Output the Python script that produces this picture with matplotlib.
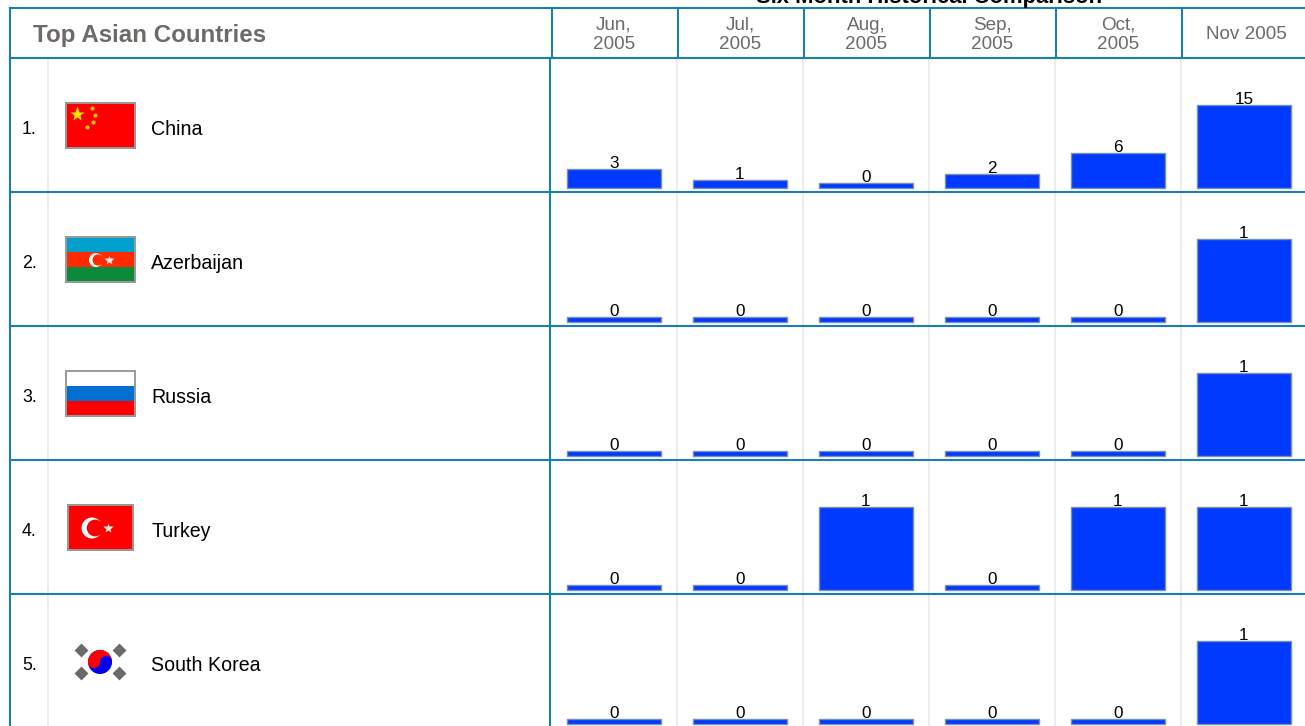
import numpy as np
import matplotlib
matplotlib.use('Agg')
import matplotlib.pyplot as plt
from matplotlib.patches import Rectangle, Circle, Wedge

plt.rcParams['font.family'] = ['Liberation Sans', 'DejaVu Sans']

# data
months = ['Jun,\n2005', 'Jul,\n2005', 'Aug,\n2005', 'Sep,\n2005', 'Oct,\n2005', 'Nov 2005']
countries = ['China', 'Azerbaijan', 'Russia', 'Turkey', 'South Korea']
china = [3, 1, 0, 2, 6, 15]
azerbaijan = [0, 0, 0, 0, 0, 1]
russia = [0, 0, 0, 0, 0, 1]
turkey = [0, 0, 1, 0, 1, 1]
south_korea = [0, 0, 0, 0, 0, 1]
rows = [china, azerbaijan, russia, turkey, south_korea]

W, H = 1305, 726
TEAL = '#1a80ad'
GREY = '#ececec'
HEAD = '#6d6a67'
BLUE = '#0039ff'
BAR_EDGE = '#7b8fae'

row_tops = [57.5 + 134 * i for i in range(6)]
cell_x = [552, 678, 804, 930, 1056, 1182]

fig = plt.figure(figsize=(W / 100, H / 100), dpi=100)
ax = fig.add_axes([0, 0, 1, 1])
ax.set_xlim(0, W)
ax.set_ylim(H, 0)
ax.axis('off')

# grid lines
for x in [47.7, 676.7, 802.7, 928.7, 1054.7, 1180.7]:
    ax.plot([x, x], [58, H], color=GREY, lw=1.4, zorder=1)
ax.plot([10, 10], [7.5, H], color=TEAL, lw=1.5, zorder=2)
ax.plot([550, 550], [58, H], color=TEAL, lw=1.5, zorder=2)
ax.plot([10, W], [7.5, 7.5], color=TEAL, lw=1.5, zorder=2)
for y in row_tops:
    ax.plot([10, W], [y, y], color=TEAL, lw=1.5, zorder=2)
for x in cell_x:
    ax.plot([x, x], [7.5, 57.5], color=TEAL, lw=1.5, zorder=2)

# header text
ax.text(33, 35.5, 'Top Asian Countries', fontsize=17.4, fontweight='bold', color=HEAD,
        ha='left', va='center')
ax.text(929, 2.5, 'Six Month Historical Comparison', fontsize=15.8, fontweight='bold',
        color='black', ha='center', va='baseline')
for x, m in zip(cell_x, months):
    is_two = '\n' in m
    ax.text(x + 62 + (0 if is_two else 2), 35 if is_two else 34.5, m, fontsize=13.6, color=HEAD,
            ha='center', va='center', linespacing=1.2)


def flag_box(y0, x0=65, x1=136, h=47):
    ax.add_patch(Rectangle((x0 + 1, y0 + 1), x1 - x0 - 2, h - 2, fc='none', ec='#9a9a9a', lw=1.4, zorder=6))


def stripes(y0, colors, x0=65, x1=136, h=47):
    n = len(colors)
    for i, c in enumerate(colors):
        ax.add_patch(Rectangle((x0, y0 + i * h / n), x1 - x0, h / n, fc=c, ec='none', zorder=4))


def crescent(cx, cy, r, bg):
    ax.add_patch(Circle((cx, cy), r, fc='white', ec='none', zorder=5))
    ax.add_patch(Circle((cx + r * 0.3, cy), r * 0.8, fc=bg, ec='none', zorder=5))


# flags
stripes(102, ['#ff0000'])
ax.plot([76.5], [113.5], marker='*', ms=11, color='#ffe600', mec='none', zorder=5)
ax.plot([91.5, 94.5, 93, 87], [107.5, 115, 122, 127], ls='none', marker='o', ms=3,
        color='#ffc800', mec='none', zorder=5)
flag_box(102)

stripes(236, ['#00a0cc', '#ff2a00', '#0a8a3a'])
crescent(96, 260, 7, '#ff2a00')
ax.plot([108.5], [260], marker='*', ms=7, color='#ffe8e0', mec='none', zorder=6)
flag_box(236)

stripes(370, ['white', '#0070d0', '#ff0000'])
flag_box(370)

ax.add_patch(Rectangle((67, 504), 67, 47, fc='#ff0000', ec='none', zorder=4))
crescent(92, 528, 10.5, '#ff0000')
ax.plot([107.5], [528], marker='*', ms=7, color='#ffe8e0', mec='none', zorder=6)
ax.add_patch(Rectangle((68, 505), 65, 45, fc='none', ec='#9a9a9a', lw=1.4, zorder=6))

# south korea
ax.add_patch(Circle((100, 662), 12, fc='#0000ee', ec='none', zorder=4))
ax.add_patch(Wedge((100, 662), 12, 180, 360, fc='#ff0000', ec='none', zorder=4))
ax.add_patch(Circle((94, 662), 6, fc='#ff0000', ec='none', zorder=5))
ax.add_patch(Circle((106, 662), 6, fc='#0000ee', ec='none', zorder=5))
for tx, ty in [(81, 650), (119, 650), (81, 673), (119, 673)]:
    ax.plot([tx], [ty], marker=(4, 0, 0), ms=10, color='#6a6a6a', mec='none', zorder=5)

# row labels
for i, name in enumerate(countries):
    yc = row_tops[i] + 72
    ax.text(22, yc, f'{i + 1}.', fontsize=12.8, color='black', ha='left', va='center')
    ax.text(151, yc, name, fontsize=14.1, color='black', ha='left', va='center')

# bars, one small axes per row
for i, values in enumerate(rows):
    base = row_tops[i] + 130.5
    top = row_tops[i] + 3
    bar_ax = fig.add_axes([551 / W, (H - base) / H, 756 / W, (base - top) / H])
    bar_ax.patch.set_alpha(0)
    bar_ax.axis('off')
    unit = max(values) / 80.3  # value per pixel
    bar_ax.set_xlim(-0.5, 5.5)
    bar_ax.set_ylim(-2 * unit, (base - top - 2) * unit)
    vals = np.array(values, dtype=float)
    shown = np.maximum(vals + 1.0 * (vals > 0) * unit, 2.8 * unit)
    bar_ax.bar(range(6), shown + 1.5 * unit, bottom=-1.5 * unit, width=0.746, color=BLUE,
               edgecolor=BAR_EDGE, linewidth=1, clip_on=False, zorder=3)
    for j, v in enumerate(values):
        bar_ax.annotate(str(v), (j, shown[j]), xytext=(0, 0.8), textcoords='offset points',
                        ha='center', va='baseline', fontsize=12.3, color='black',
                        annotation_clip=False, zorder=4)

fig.savefig('out.png', dpi=100)
